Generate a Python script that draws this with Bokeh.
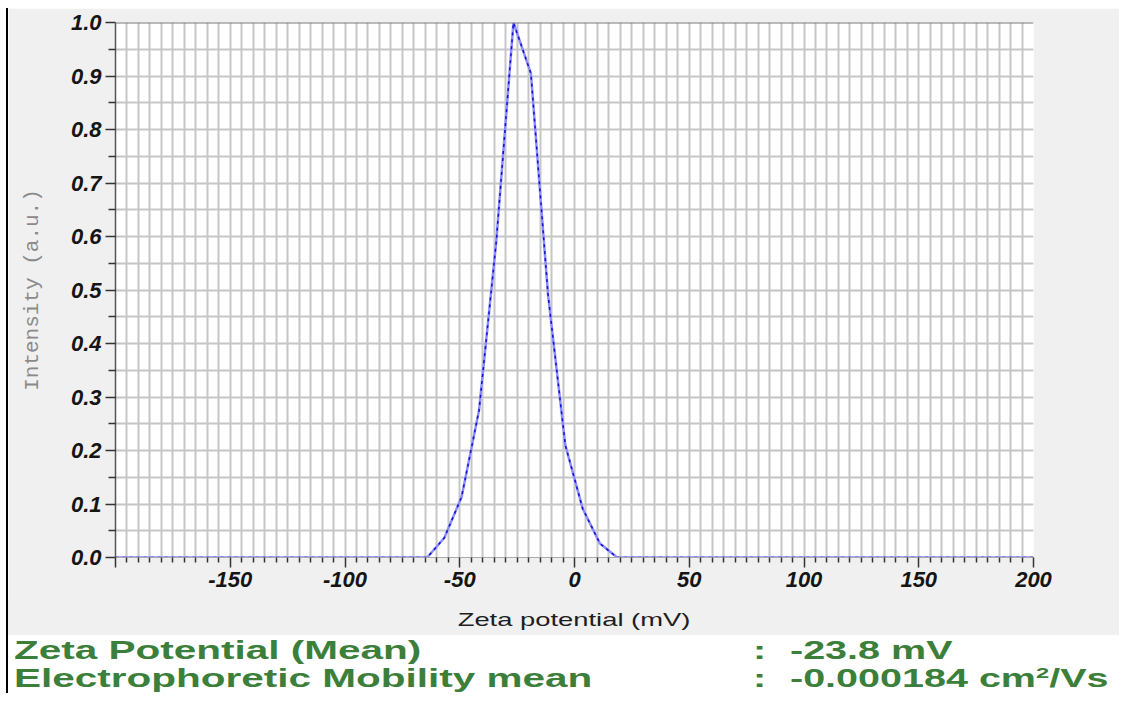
from bokeh.plotting import figure
from bokeh.models import FixedTicker, PrintfTickFormatter, Span, Range1d, Div, ColumnDataSource
from bokeh.layouts import column
from bokeh.embed import file_html
from bokeh.resources import INLINE

# ---- data ----
zeta_mv = [-200, -64.2, -56.7, -49.2, -41.6, -34.1, -26.6, -19.0, -11.5, -4.0, 3.6, 11.1, 18.6, 200]
intensity = [0.0, 0.0, 0.037, 0.113, 0.275, 0.59, 1.0, 0.905, 0.49, 0.21, 0.091, 0.026, 0.0, 0.0]

x_major_ticks = [-200, -150, -100, -50, 0, 50, 100, 150, 200]
x_tick_labels = ["", "-150", "-100", "-50", "0", "50", "100", "150", "200"]
x_minor_ticks = [v for v in range(-200, 201, 5) if v % 50 != 0]
x_grid_ticks = list(range(-200, 201, 5))
y_major_ticks = [0.0, 0.1, 0.2, 0.3, 0.4, 0.5, 0.6, 0.7, 0.8, 0.9, 1.0]
y_minor_ticks = [0.05, 0.15, 0.25, 0.35, 0.45, 0.55, 0.65, 0.75, 0.85, 0.95]
y_grid_ticks = sorted(y_major_ticks + y_minor_ticks)

x_label = "Zeta potential (mV)"
y_label = "Intensity (a.u.)"
result_names = ["Zeta Potential (Mean)", "Electrophoretic Mobility mean"]
result_values = ["-23.8 mV",
                 "-0.000184 cm<sup style='font-size:15px;vertical-align:9px;line-height:0'>2</sup>/Vs"]

W = 1111      # figure / text block width
H = 592       # figure height

p = figure(width=W, height=H, output_backend="svg", toolbar_location=None,
           x_range=Range1d(-200, 200), y_range=Range1d(0, 1.0),
           min_border_left=107, min_border_right=86, min_border_top=14, min_border_bottom=43)
p.background_fill_color = "white"
p.border_fill_color = "#f0f0f0"
p.outline_line_color = None

# grid
p.xgrid.ticker = FixedTicker(ticks=x_grid_ticks)
p.ygrid.ticker = FixedTicker(ticks=y_grid_ticks)
for g in (p.xgrid, p.ygrid):
    g.grid_line_color = "#c6c6c6"
    g.grid_line_width = 2

top_line = Span(location=p.y_range.end, dimension="width", line_color="#777777", line_width=2)
p.add_layout(top_line)

# axes
p.xaxis.ticker = FixedTicker(ticks=x_major_ticks, minor_ticks=x_minor_ticks)
p.xaxis.major_label_overrides = dict(zip(x_major_ticks, x_tick_labels))
p.yaxis.ticker = FixedTicker(ticks=y_major_ticks, minor_ticks=y_minor_ticks)
p.yaxis.formatter = PrintfTickFormatter(format="%.1f")

for ax in (p.xaxis, p.yaxis):
    ax.major_label_text_font = "Liberation Sans"
    ax.major_label_text_font_style = "bold italic"
    ax.major_label_text_font_size = "22px"
    ax.major_label_text_color = "#151515"
    ax.major_tick_in = 0
    ax.major_tick_out = 10
    ax.minor_tick_in = 0
    ax.major_tick_line_color = "#333333"
    ax.minor_tick_line_color = "#333333"
    ax.major_tick_line_width = 1.5
    ax.minor_tick_line_width = 1.5
    ax.major_label_standoff = 4

p.xaxis.minor_tick_out = 5
p.yaxis.minor_tick_out = 7
p.xaxis.axis_line_color = "#aaaaaa"
p.yaxis.axis_line_color = "#555555"
p.yaxis.axis_line_width = 1.5

p.yaxis.axis_label = y_label
p.yaxis.axis_label_text_font = "Liberation Mono"
p.yaxis.axis_label_text_font_style = "normal"
p.yaxis.axis_label_text_font_size = "21px"
p.yaxis.axis_label_text_color = "#8a8a8a"
p.yaxis.axis_label_standoff = 24

src = ColumnDataSource(dict(x=zeta_mv, y=intensity))
p.line("x", "y", source=src, line_color="#8c8cff", line_width=2.5)
p.line("x", "y", source=src, line_color="#1010d0", line_width=1.5, line_dash="3 4")

# ---- lower block: x-axis title (grey band) + green results (white band) ----
green = "#3b7f3b"
g_style = ("position:absolute;white-space:nowrap;transform-origin:left top;"
           "font-family:'Liberation Sans',Arial,sans-serif;font-weight:bold;"
           "font-size:25px;line-height:28px;color:" + green + ";")
html = (
    f"<div style=\"position:relative;width:{W}px;height:93px;overflow:hidden;background:#ffffff;\">"
    f"<div style=\"position:absolute;left:0;top:0;width:{W}px;height:35px;background:#f0f0f0;\"></div>"
    f"<span style=\"position:absolute;white-space:nowrap;left:566px;top:10px;"
    f"transform:translateX(-50%) scaleX(1.44);transform-origin:center;"
    f"font-family:'Liberation Sans',Arial,sans-serif;font-size:19px;line-height:19px;color:#1e1e1e;\">{x_label}</span>"
    f"<span style=\"{g_style}left:6px;top:36px;transform:scaleX(1.62);\">{result_names[0]}</span>"
    f"<span style=\"{g_style}left:745px;top:36px;transform:scaleX(1.58);\">:</span>"
    f"<span style=\"{g_style}left:782px;top:36px;transform:scaleX(1.58);\">{result_values[0]}</span>"
    f"<span style=\"{g_style}left:6px;top:64px;transform:scaleX(1.62);\">{result_names[1]}</span>"
    f"<span style=\"{g_style}left:745px;top:64px;transform:scaleX(1.58);\">:</span>"
    f"<span style=\"{g_style}left:782px;top:64px;transform:scaleX(1.58);\">{result_values[1]}</span>"
    f"</div>"
)
div = Div(text=html, width=W, height=93, margin=(0, 0, 0, 0))

layout = column(p, div, spacing=0,
                styles={"border-left": "2px solid #000000", "margin-left": "6px", "margin-top": "8px"})

open("out.html", "w").write(file_html(layout, INLINE))
